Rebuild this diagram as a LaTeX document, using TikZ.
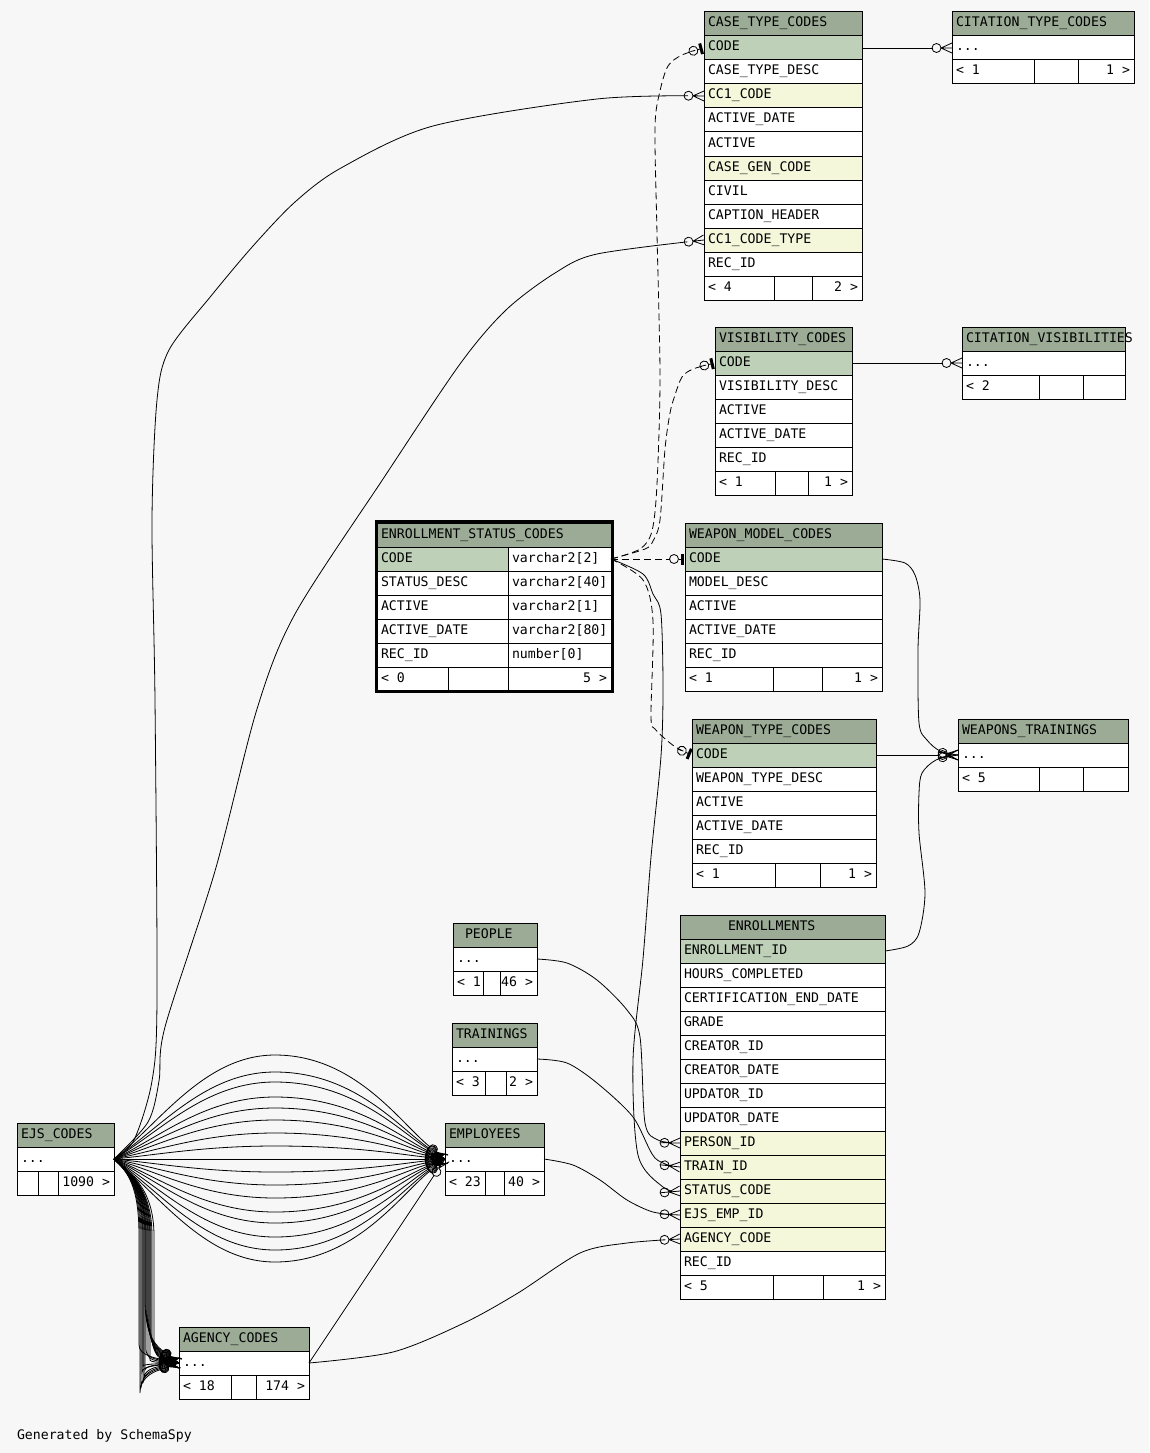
\documentclass[tikz,border=0pt]{standalone}
\usepackage{fontspec}
\setmonofont{DejaVu Sans Mono}
\definecolor{bgc}{HTML}{F7F7F7}
\definecolor{hdr}{HTML}{9BAB96}
\definecolor{pkc}{HTML}{BED1B8}
\definecolor{fkc}{HTML}{F4F7DA}
\newcommand\erfont{\ttfamily\fontsize{13.2}{15}\selectfont}
\newcommand\erow[6]{%
  \pgfmathsetmacro\erw{#3-#2}%
  \pgfmathsetmacro\ercx{(#2+#3)/2}%
  \pgfmathsetmacro\ercy{#4+12}%
  \pgfmathsetmacro\ertx{#2+4}%
  \pgfmathsetmacro\erby{#4+15}%
  \node[cellbox, fill=#5, minimum width=\erw pt] (#1) at (\ercx,\ercy) {};%
  \node[celltxt, anchor=base west] (#1-t) at (\ertx,\erby) {#6};%
}
\newcommand\efoot[8]{%
  \erow{#1-a}{#2}{#3}{#6}{white}{#7}%
  \erow{#1-b}{#3}{#4}{#6}{white}{}%
  \pgfmathsetmacro\erw{#5-#4}%
  \pgfmathsetmacro\ercx{(#4+#5)/2}%
  \pgfmathsetmacro\ercy{#6+12}%
  \pgfmathsetmacro\ertx{#5-4}%
  \pgfmathsetmacro\erby{#6+15}%
  \node[cellbox, fill=white, minimum width=\erw pt] (#1-c) at (\ercx,\ercy) {};%
  \node[celltxt, anchor=base east] (#1-c-t) at (\ertx,\erby) {#8};%
}
% crow's foot with open circle (zero or many)
\pgfdeclarearrow{
  name=CrowODot,
  setup code={
    \pgfarrowssettipend{0pt}
    \pgfarrowssetlineend{-19.5pt}
    \pgfarrowssetvisualbackend{-20pt}
    \pgfarrowssetbackend{-20pt}
    \pgfarrowshullpoint{0pt}{5pt}
    \pgfarrowshullpoint{0pt}{-5pt}
    \pgfarrowshullpoint{-20pt}{0pt}
  },
  drawing code={
    \pgfsetdash{}{0pt}
    \pgfsetlinewidth{0.8pt}
    \pgfpathmoveto{\pgfpoint{-11pt}{0pt}}\pgfpathlineto{\pgfpoint{0pt}{5pt}}
    \pgfpathmoveto{\pgfpoint{-11pt}{0pt}}\pgfpathlineto{\pgfpoint{0pt}{0pt}}
    \pgfpathmoveto{\pgfpoint{-11pt}{0pt}}\pgfpathlineto{\pgfpoint{0pt}{-5pt}}
    \pgfusepathqstroke
    \pgfpathcircle{\pgfpoint{-15.5pt}{0pt}}{4.5pt}
    \pgfusepathqstroke
  }
}
% bar with open circle (zero or one)
\pgfdeclarearrow{
  name=TeeODot,
  setup code={
    \pgfarrowssettipend{0pt}
    \pgfarrowssetlineend{-15pt}
    \pgfarrowssetvisualbackend{-15.5pt}
    \pgfarrowssetbackend{-15.5pt}
    \pgfarrowshullpoint{0pt}{6pt}
    \pgfarrowshullpoint{0pt}{-6pt}
    \pgfarrowshullpoint{-15.5pt}{0pt}
  },
  drawing code={
    \pgfsetdash{}{0pt}
    \pgfsetlinewidth{3pt}
    \pgfpathmoveto{\pgfpoint{-3pt}{-5.5pt}}\pgfpathlineto{\pgfpoint{-3pt}{5.5pt}}
    \pgfusepathqstroke
    \pgfsetlinewidth{0.8pt}
    \pgfpathmoveto{\pgfpoint{-6.5pt}{0pt}}\pgfpathlineto{\pgfpoint{-3pt}{0pt}}
    \pgfusepathqstroke
    \pgfpathcircle{\pgfpoint{-11pt}{0pt}}{4.5pt}
    \pgfusepathqstroke
  }
}
\tikzset{
  cellbox/.style={rectangle, draw=black, line width=1pt, minimum height=24pt, inner sep=0pt, outer sep=0pt},
  celltxt/.style={font=\erfont, inner sep=0pt, outer sep=0pt, text=black},
  conn/.style={line width=0.8pt, draw=black},
  impl/.style={conn, dash pattern=on 7pt off 4pt},
  crowend/.style={-{CrowODot}},
  teeend/.style={-{TeeODot}},
}
\begin{document}
\begin{tikzpicture}[x=1pt, y=-1pt]
\useasboundingbox (0,0) rectangle (1149,1453);
\fill[bgc] (0,0) rectangle (1149,1453);

% ---------- tables ----------
% CASE_TYPE_CODES
\erow{ctc-h}{704}{862}{12}{hdr}{CASE\_TYPE\_CODES}
\erow{ctc-code}{704}{862}{36}{pkc}{CODE}
\erow{ctc-desc}{704}{862}{60}{white}{CASE\_TYPE\_DESC}
\erow{ctc-cc1}{704}{862}{84}{fkc}{CC1\_CODE}
\erow{ctc-adate}{704}{862}{108}{white}{ACTIVE\_DATE}
\erow{ctc-active}{704}{862}{132}{white}{ACTIVE}
\erow{ctc-gen}{704}{862}{156}{fkc}{CASE\_GEN\_CODE}
\erow{ctc-civil}{704}{862}{180}{white}{CIVIL}
\erow{ctc-cap}{704}{862}{204}{white}{CAPTION\_HEADER}
\erow{ctc-cc1t}{704}{862}{228}{fkc}{CC1\_CODE\_TYPE}
\erow{ctc-rec}{704}{862}{252}{white}{REC\_ID}
\efoot{ctc-f}{704}{774}{812}{862}{276}{< 4}{2 >}

% CITATION_TYPE_CODES
\erow{cit-h}{952}{1134}{12}{hdr}{CITATION\_TYPE\_CODES}
\erow{cit-dots}{952}{1134}{36}{white}{...}
\efoot{cit-f}{952}{1034}{1078}{1134}{60}{< 1}{1 >}

% VISIBILITY_CODES
\erow{vis-h}{715}{852}{327}{hdr}{VISIBILITY\_CODES}
\erow{vis-code}{715}{852}{351}{pkc}{CODE}
\erow{vis-desc}{715}{852}{375}{white}{VISIBILITY\_DESC}
\erow{vis-active}{715}{852}{399}{white}{ACTIVE}
\erow{vis-adate}{715}{852}{423}{white}{ACTIVE\_DATE}
\erow{vis-rec}{715}{852}{447}{white}{REC\_ID}
\efoot{vis-f}{715}{775}{808}{852}{471}{< 1}{1 >}

% CITATION_VISIBILITIES
\erow{cv-h}{962}{1125}{327}{hdr}{CITATION\_VISIBILITIES}
\erow{cv-dots}{962}{1125}{351}{white}{...}
\efoot{cv-f}{962}{1039}{1083}{1125}{375}{< 2}{}

% ENROLLMENT_STATUS_CODES
\erow{esc-h}{377}{611}{523}{hdr}{ENROLLMENT\_STATUS\_CODES}
\erow{esc-code}{377}{508}{547}{pkc}{CODE}
\erow{esc-code-type}{508}{611}{547}{white}{varchar2[2]}
\erow{esc-desc}{377}{508}{571}{white}{STATUS\_DESC}
\erow{esc-desc-type}{508}{611}{571}{white}{varchar2[40]}
\erow{esc-active}{377}{508}{595}{white}{ACTIVE}
\erow{esc-active-type}{508}{611}{595}{white}{varchar2[1]}
\erow{esc-adate}{377}{508}{619}{white}{ACTIVE\_DATE}
\erow{esc-adate-type}{508}{611}{619}{white}{varchar2[80]}
\erow{esc-rec}{377}{508}{643}{white}{REC\_ID}
\erow{esc-rec-type}{508}{611}{643}{white}{number[0]}
\efoot{esc-f}{377}{448}{508}{611}{667}{< 0}{5 >}
\draw[line width=3pt] (376,521.5) rectangle (612,691.5);

% WEAPON_MODEL_CODES
\erow{wmc-h}{685}{882}{523}{hdr}{WEAPON\_MODEL\_CODES}
\erow{wmc-code}{685}{882}{547}{pkc}{CODE}
\erow{wmc-desc}{685}{882}{571}{white}{MODEL\_DESC}
\erow{wmc-active}{685}{882}{595}{white}{ACTIVE}
\erow{wmc-adate}{685}{882}{619}{white}{ACTIVE\_DATE}
\erow{wmc-rec}{685}{882}{643}{white}{REC\_ID}
\efoot{wmc-f}{685}{773}{822}{882}{667}{< 1}{1 >}

% WEAPON_TYPE_CODES
\erow{wtc-h}{692}{876}{719}{hdr}{WEAPON\_TYPE\_CODES}
\erow{wtc-code}{692}{876}{743}{pkc}{CODE}
\erow{wtc-desc}{692}{876}{767}{white}{WEAPON\_TYPE\_DESC}
\erow{wtc-active}{692}{876}{791}{white}{ACTIVE}
\erow{wtc-adate}{692}{876}{815}{white}{ACTIVE\_DATE}
\erow{wtc-rec}{692}{876}{839}{white}{REC\_ID}
\efoot{wtc-f}{692}{775}{820}{876}{863}{< 1}{1 >}

% WEAPONS_TRAININGS
\erow{wt-h}{958}{1128}{719}{hdr}{WEAPONS\_TRAININGS}
\erow{wt-dots}{958}{1128}{743}{white}{...}
\efoot{wt-f}{958}{1039}{1083}{1128}{767}{< 5}{}

% ENROLLMENTS
\node[cellbox, fill=hdr, minimum width=205pt] (enr-h) at (782.5,927) {};
\node[celltxt, anchor=base west] (enr-h-t) at (728,930) {ENROLLMENTS};
\erow{enr-id}{680}{885}{939}{pkc}{ENROLLMENT\_ID}
\erow{enr-hours}{680}{885}{963}{white}{HOURS\_COMPLETED}
\erow{enr-cert}{680}{885}{987}{white}{CERTIFICATION\_END\_DATE}
\erow{enr-grade}{680}{885}{1011}{white}{GRADE}
\erow{enr-cid}{680}{885}{1035}{white}{CREATOR\_ID}
\erow{enr-cdate}{680}{885}{1059}{white}{CREATOR\_DATE}
\erow{enr-uid}{680}{885}{1083}{white}{UPDATOR\_ID}
\erow{enr-udate}{680}{885}{1107}{white}{UPDATOR\_DATE}
\erow{enr-person}{680}{885}{1131}{fkc}{PERSON\_ID}
\erow{enr-train}{680}{885}{1155}{fkc}{TRAIN\_ID}
\erow{enr-status}{680}{885}{1179}{fkc}{STATUS\_CODE}
\erow{enr-ejs}{680}{885}{1203}{fkc}{EJS\_EMP\_ID}
\erow{enr-agency}{680}{885}{1227}{fkc}{AGENCY\_CODE}
\erow{enr-rec}{680}{885}{1251}{white}{REC\_ID}
\efoot{enr-f}{680}{773}{823}{885}{1275}{< 5}{1 >}

% PEOPLE
\node[cellbox, fill=hdr, minimum width=84pt] (peo-h) at (495,935) {};
\node[celltxt, anchor=base west] (peo-h-t) at (465,938) {PEOPLE};
\erow{peo-dots}{453}{537}{947}{white}{...}
\efoot{peo-f}{453}{483}{500}{537}{971}{< 1}{46 >}

% TRAININGS
\erow{trn-h}{452}{537}{1023}{hdr}{TRAININGS}
\erow{trn-dots}{452}{537}{1047}{white}{...}
\efoot{trn-f}{452}{485}{506}{537}{1071}{< 3}{2 >}

% EMPLOYEES
\erow{emp-h}{445}{544}{1123}{hdr}{EMPLOYEES}
\erow{emp-dots}{445}{544}{1147}{white}{...}
\efoot{emp-f}{445}{485}{504}{544}{1171}{< 23}{40 >}

% EJS_CODES
\erow{ejs-h}{17}{114}{1123}{hdr}{EJS\_CODES}
\erow{ejs-dots}{17}{114}{1147}{white}{...}
\efoot{ejs-f}{17}{38}{58}{114}{1171}{}{1090 >}

% AGENCY_CODES
\erow{ag-h}{179}{309}{1327}{hdr}{AGENCY\_CODES}
\erow{ag-dots}{179}{309}{1351}{white}{...}
\efoot{ag-f}{179}{231}{256}{309}{1375}{< 18}{174 >}

% ---------- connectors ----------
\draw[conn, crowend] (ctc-code.east) -- (cit-dots.west);
\draw[conn, crowend] (vis-code.east) -- (cv-dots.west);
\draw[conn, crowend] (wtc-code.east) -- (wt-dots.west);
\draw[conn, crowend] plot[smooth] coordinates {(wmc-code.east) (905,563) (915,575) (920,600) (918,650) (919,723) (927,740) (940,751) (wt-dots.west)};
\draw[conn, crowend] plot[smooth] coordinates {(enr-id.east) (908,946) (919,933) (925,893) (919,833) (919,793) (922,773) (936,760) (wt-dots.west)};

% implied (dashed) from ENROLLMENT_STATUS_CODES
\draw[impl, teeend] plot[smooth] coordinates {(esc-code-type.east) (640,549) (652,531) (657,484) (660,377) (657,234) (655,127) (660,91) (668,66) (682,55) (ctc-code.west)};
\draw[impl, teeend] plot[smooth] coordinates {(esc-code-type.east) (645,549) (653,541) (660,520) (665,449) (670,413) (675,395) (682,377) (693,369) (vis-code.west)};
\draw[impl, teeend] (esc-code-type.east) -- (wmc-code.west);
\draw[impl, teeend] plot[smooth] coordinates {(esc-code-type.east) (643,580) (653,621) (651,716) (655,729) (674,746) (wtc-code.west)};

% ENROLLMENT_STATUS_CODES -> ENROLLMENTS.STATUS_CODE
\draw[conn, crowend] plot[smooth] coordinates {(esc-code-type.east) (643,574) (653,594) (661,614) (663,688) (661,756) (651,857) (643,959) (633,1060) (638,1155) (663,1187) (enr-status.west)};

% into ENROLLMENTS
\draw[conn, crowend] plot[smooth] coordinates {(peo-dots.east) (567,963) (597,980) (627,1010) (640,1037) (645,1123) (658,1140) (enr-person.west)};
\draw[conn, crowend] plot[smooth] coordinates {(trn-dots.east) (567,1063) (597,1083) (633,1117) (655,1158) (enr-train.west)};
\draw[conn, crowend] plot[smooth] coordinates {(emp-dots.east) (573,1165) (600,1180) (627,1200) (653,1212) (enr-ejs.west)};
\draw[conn, crowend] plot[smooth] coordinates {(ag-dots.east) (393,1352) (464,1323) (518,1293) (580,1253) (627,1243) (enr-agency.west)};
\draw[conn, crowend] (ag-dots.east) -- (emp-dots.west);

% EJS_CODES -> CASE_TYPE_CODES
\draw[conn, crowend] plot[smooth] coordinates {(ejs-dots.east) (134,1140) (152,1081) (157,1000) (155,700) (152,520) (157,400) (169,350) (211,296) (253,246) (295,202) (341,168) (433,126) (597,99) (ctc-cc1.west)};
\draw[conn, crowend] plot[smooth] coordinates {(ejs-dots.east) (148,1122) (159,1081) (165,1027) (215,871) (257,709) (295,614) (383,479) (460,364) (506,310) (555,273) (597,254) (ctc-cc1t.west)};

% EJS_CODES -> EMPLOYEES (fan)
\foreach \dd in {-104,-87,-77,-62,-51,-39,-26,-13,0,13,26,39,53,64,78,91,103} {
  \draw[conn, crowend] (ejs-dots.east) .. controls (160,{1159+0.35*(\dd)}) and (205,{1159+(\dd)}) .. (275,{1159+(\dd)}) .. controls (355,{1159+(\dd)}) and (400,{1159+0.35*(\dd)}) .. (emp-dots.west);
}

% EJS_CODES -> AGENCY_CODES (bundle)
\foreach \xk/\ek in {140/1393,141/1388,143/1383,144/1378,142/1372,145/1300,146/1305,147/1310,148/1315,149/1320,150/1325,151/1330,152/1335,154/1340,139/1345,146/1350,148/1355,150/1360,143/1366,145/1370} {
  \draw[conn, crowend] (ejs-dots.east) .. controls (128,1172) and (\xk,1186) .. (\xk,1236) -- (\xk,\ek) .. controls (\xk,{\ek+(1363-\ek)*0.6}) and (158,{1363+(\ek-1363)*0.25}) .. (ag-dots.west);
}

% footer
\node[celltxt, anchor=base west] (gen) at (17,1439) {Generated by SchemaSpy};
\end{tikzpicture}
\end{document}
